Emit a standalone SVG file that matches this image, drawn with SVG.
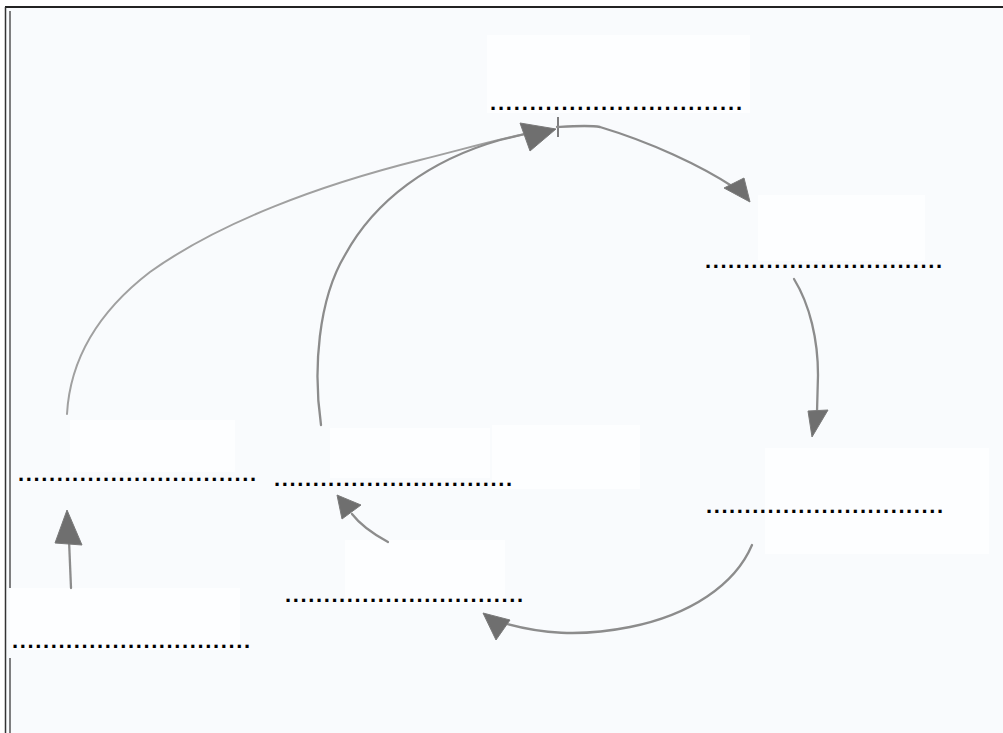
<svg xmlns="http://www.w3.org/2000/svg" width="1003" height="733" viewBox="0 0 1003 733">
  <style>
    .blank { font-family: "Liberation Sans", Arial, sans-serif; font-size: 22px; font-weight: bold; fill: #000; }
    .pencil { fill: none; stroke: #8c8c8c; stroke-width: 2.3; stroke-linecap: round; stroke-linejoin: round; }
    .pencil-light { fill: none; stroke: #a0a0a0; stroke-width: 2; stroke-linecap: round; }
    .head { fill: #6f6f6f; stroke: #7a7a7a; stroke-width: 1; stroke-linejoin: round; }
    .erase { fill: #fdfeff; }
  </style>
  <rect x="0" y="0" width="1003" height="733" fill="#ffffff"/>
  <rect x="5" y="7" width="998" height="726" fill="#f9fbfd"/>
  <!-- faint erased boxes -->
  <g id="erased">
    <rect class="erase" x="487" y="35" width="263" height="78"/>
    <rect class="erase" x="758" y="195" width="167" height="66"/>
    <rect class="erase" x="765" y="448" width="224" height="106"/>
    <rect class="erase" x="492" y="425" width="148" height="64"/>
    <rect class="erase" x="345" y="540" width="160" height="64"/>
    <rect class="erase" x="70" y="420" width="165" height="52"/>
    <rect class="erase" x="330" y="428" width="160" height="50"/>
    <rect class="erase" x="10" y="588" width="230" height="62"/>
  </g>
  <!-- frame -->
  <g id="frame" stroke-linecap="butt">
    <line x1="5" y1="7" x2="1003" y2="7" stroke="#222" stroke-width="2"/>
    <line x1="5.5" y1="7" x2="5.5" y2="733" stroke="#333" stroke-width="1.5"/>
    <line x1="10" y1="11" x2="10" y2="588" stroke="#555" stroke-width="1.5"/>
    <line x1="10" y1="658" x2="10" y2="733" stroke="#555" stroke-width="1.5"/>
  </g>
  <!-- nodes: blank dotted lines -->
  <g id="node-top"><text class="blank" x="490" y="110" textLength="252" lengthAdjust="spacing">................................</text></g>
  <g id="node-right-upper"><text class="blank" x="705" y="268" textLength="237" lengthAdjust="spacing">...............................</text></g>
  <g id="node-right-lower"><text class="blank" x="706" y="513" textLength="237" lengthAdjust="spacing">...............................</text></g>
  <g id="node-left-mid"><text class="blank" x="18" y="481" textLength="238" lengthAdjust="spacing">...............................</text></g>
  <g id="node-center"><text class="blank" x="274" y="486" textLength="238" lengthAdjust="spacing">...............................</text></g>
  <g id="node-bottom-center"><text class="blank" x="285" y="602" textLength="238" lengthAdjust="spacing">...............................</text></g>
  <g id="node-bottom-left"><text class="blank" x="12" y="648" textLength="238" lengthAdjust="spacing">...............................</text></g>
  <!-- connectors -->
  <g id="connectors">
    <!-- big left arc to top -->
    <path class="pencil-light" d="M67,414 C70,360 98,312 150,272 C220,222 320,185 420,160 C460,150 495,140 525,134"/>
    <!-- second arc to top -->
    <path class="pencil" d="M321,425 C313,370 318,300 345,255 C375,200 430,160 500,140 L525,134"/>
    <polygon class="head" points="520,123 556,129 530,151"/>
    <line x1="558" y1="117" x2="558" y2="137" stroke="#555" stroke-width="1.5"/>
    <!-- top to right upper -->
    <path class="pencil" d="M557,127 C575,126 590,125 600,127 C650,142 700,165 735,188"/>
    <polygon class="head" points="724,188 744,178 750,202"/>
    <!-- right upper to right lower -->
    <path class="pencil" d="M794,279 C810,305 818,340 818,375 L817,412"/>
    <polygon class="head" points="808,411 828,410 812,437"/>
    <!-- right lower to bottom center -->
    <path class="pencil" d="M752,545 C735,585 690,615 630,627 C580,637 540,634 500,622"/>
    <polygon class="head" points="483,613 510,620 496,640"/>
    <!-- bottom center to center -->
    <path class="pencil" d="M388,542 C375,535 362,527 352,514"/>
    <polygon class="head" points="337,495 361,505 342,519"/>
    <!-- bottom left to left mid -->
    <path class="pencil" d="M71,588 L69,540"/>
    <polygon class="head" points="67,510 82,545 55,543"/>
  </g>
</svg>
